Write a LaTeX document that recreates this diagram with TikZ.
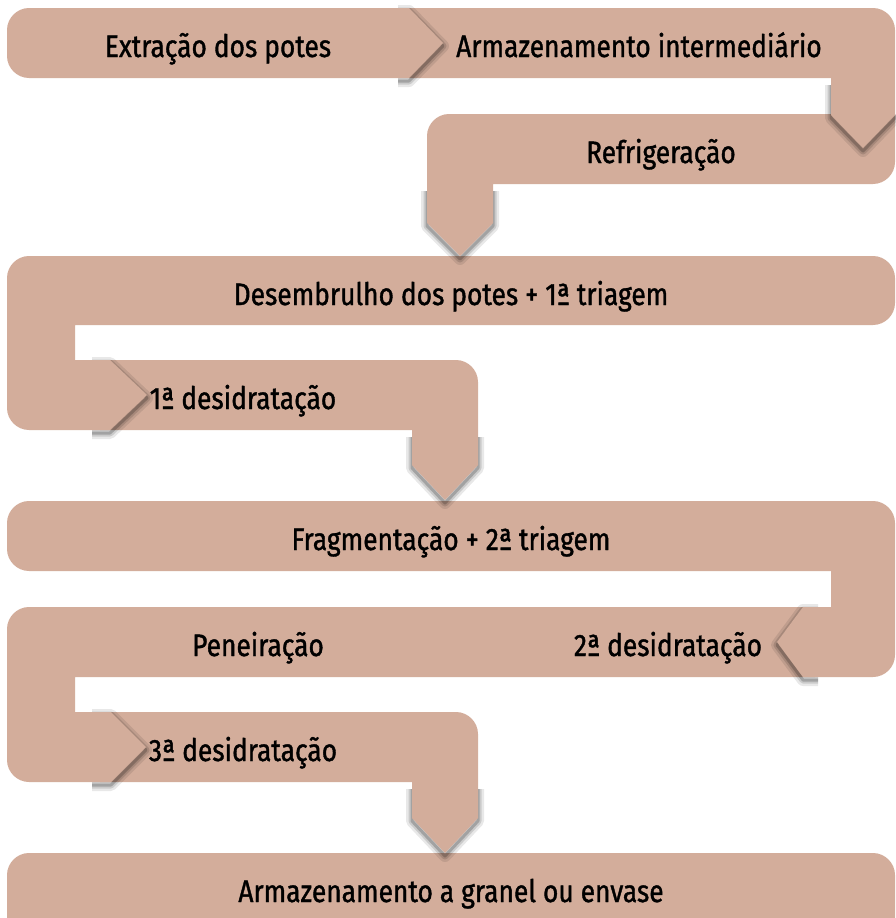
\documentclass[tikz,border=0pt]{standalone}
\usepackage{fontspec}
\setmainfont{Fira Sans}[FakeStretch=0.85,FakeBold=1.2]
\definecolor{boxfill}{RGB}{211,173,155}
\newcommand\arrowshadow[1]{%
  \draw[black,opacity=0.09,line width=12pt,line join=round,line cap=butt] #1;
  \draw[black,opacity=0.13,line width=7pt,line join=round,line cap=butt] #1;
  \draw[black,opacity=0.20,line width=3pt,line join=round,line cap=butt] #1;}
\begin{document}
\begin{tikzpicture}[x=1pt,y=-1pt,
  stepshape/.style={fill=boxfill},
  lbl/.style={anchor=base,inner sep=0pt,font=\fontsize{31}{36}\selectfont,text=black}]
\useasboundingbox (0,0) rectangle (896,918);
\clip (0,0) rectangle (896,918);
% S9: final row
\fill[stepshape] (7,950) -- (7,875) .. controls (7,863) and (17,853) .. (29,853) -- (873,853) .. controls (885,853) and (895,863) .. (895,875) -- (895,950) -- cycle;
% S8: 3a desidratacao
\begin{scope}[yshift=-3pt]\arrowshadow{(412,786) -- (412,818) -- (445,853) -- (478,818) -- (478,786)}\end{scope}
\fill[stepshape] (100,712) -- (456,712) .. controls (468,712) and (478,722) .. (478,734) -- (478,818) -- (445,853) -- (412,818) -- (412,782) -- (100,782) -- cycle;
% S7: Peneiracao / 2a desidratacao
\begin{scope}[yshift=-3pt]\arrowshadow{(92,712) -- (111,712) -- (146,747) -- (111,782) -- (92,782)}\end{scope}
\fill[stepshape] (7,629) .. controls (7,617) and (17,607) .. (29,607) -- (815,607) -- (815,677) -- (75,677) -- (75,712) -- (111,712) -- (146,747) -- (111,782) -- (29,782) .. controls (17,782) and (7,772) .. (7,760) -- cycle;
% S6: Fragmentacao
\begin{scope}[yshift=-3pt]\arrowshadow{(818,607) -- (803,607) -- (777,642) -- (803,677) -- (818,677)}\end{scope}
\fill[stepshape] (7,523) .. controls (7,511) and (17,501) .. (29,501) -- (873,501) .. controls (885,501) and (895,511) .. (895,523) -- (895,655) .. controls (895,667) and (885,677) .. (873,677) -- (803,677) -- (777,642) -- (803,607) -- (831,607) -- (831,571) -- (29,571) .. controls (17,571) and (7,561) .. (7,549) -- cycle;
% S5: 1a desidratacao
\begin{scope}[yshift=-3pt]\arrowshadow{(412,434) -- (412,465) -- (445,500) -- (478,465) -- (478,434)}\end{scope}
\fill[stepshape] (100,360) -- (456,360) .. controls (468,360) and (478,370) .. (478,382) -- (478,465) -- (445,500) -- (412,465) -- (412,430) -- (100,430) -- cycle;
% S4: Desembrulho
\begin{scope}[yshift=-3pt]\arrowshadow{(92,360) -- (110,360) -- (147,395) -- (110,430) -- (92,430)}\end{scope}
\fill[stepshape] (7,278) .. controls (7,266) and (17,256) .. (29,256) -- (873,256) .. controls (885,256) and (895,266) .. (895,278) -- (895,303) .. controls (895,315) and (885,325) .. (873,325) -- (75,325) -- (75,360) -- (110,360) -- (147,395) -- (110,430) -- (29,430) .. controls (17,430) and (7,420) .. (7,408) -- cycle;
% S3: Refrigeracao
\begin{scope}[yshift=-3pt]\arrowshadow{(427,188) -- (427,223) -- (460,256) -- (493,223) -- (493,188)}\end{scope}
\fill[stepshape] (427,136) .. controls (427,124) and (437,114) .. (449,114) -- (895,114) -- (895,162) .. controls (895,174) and (885,184) .. (873,184) -- (493,184) -- (493,223) -- (460,256) -- (427,223) -- cycle;
% S2: Armazenamento intermediario
\begin{scope}[yshift=-3pt]\arrowshadow{(831,82) -- (831,115) -- (863,148) -- (897,113)}\end{scope}
\fill[stepshape] (409,8) -- (873,8) .. controls (885,8) and (895,18) .. (895,30) -- (895,115) -- (863,148) -- (831,115) -- (831,78) -- (409,78) -- cycle;
% S1: Extracao dos potes
\begin{scope}[yshift=-3pt]\arrowshadow{(398,8) -- (409,8) -- (443,43) -- (409,78) -- (398,78)}\end{scope}
\fill[stepshape] (29,8) -- (409,8) -- (443,43) -- (409,78) -- (29,78) .. controls (17,78) and (7,68) .. (7,56) -- (7,30) .. controls (7,18) and (17,8) .. (29,8) -- cycle;
% labels
\node[lbl] (t1) at (218,57) {Extração dos potes};
\node[lbl] (t2) at (639,57) {Armazenamento intermediário};
\node[lbl] (t3) at (661,163) {Refrigeração};
\node[lbl] (t4) at (451,305) {Desembrulho dos potes + 1ª triagem};
\node[lbl] (t5) at (243,409) {1ª desidratação};
\node[lbl] (t6) at (451,550) {Fragmentação + 2ª triagem};
\node[lbl] (t7) at (668,656) {2ª desidratação};
\node[lbl] (t8) at (258,656) {Peneiração};
\node[lbl] (t9) at (243,761) {3ª desidratação};
\node[lbl] (t10) at (451,902) {Armazenamento a granel ou envase};
\end{tikzpicture}
\end{document}
